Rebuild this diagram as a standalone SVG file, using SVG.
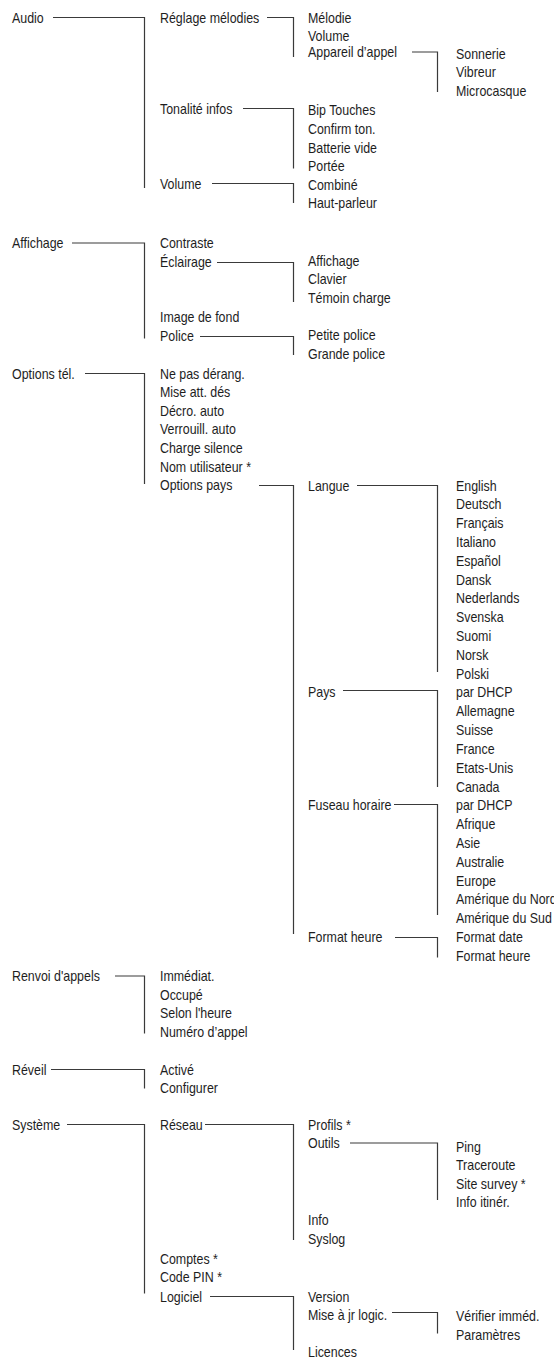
<svg xmlns="http://www.w3.org/2000/svg" width="554" height="1362" viewBox="0 0 554 1362">
<style>
text{font-family:"Liberation Sans",Arial,sans-serif;font-size:13.8px;fill:#1e1e1e}
#connectors path{fill:none;stroke:#3a3a3a;stroke-width:1.2}
</style>
<rect width="554" height="1362" fill="#fff"/>
<g id="connectors">
<path d="M53 17.5H144.5V188"/>
<path d="M267 17.5H293.5V57"/>
<path d="M412 52H437.5V92"/>
<path d="M243 108.5H293.5V168.5"/>
<path d="M212 183.5H293.5V203"/>
<path d="M72 243H144.5V338.5"/>
<path d="M217 262.5H293.5V302"/>
<path d="M200 336.5H293.5V355"/>
<path d="M85 373.5H144.5V484"/>
<path d="M259 485.5H293.5V934"/>
<path d="M357 485.5H437.5V672"/>
<path d="M343 690.5H437.5V787"/>
<path d="M394 804.5H437.5V915"/>
<path d="M395 937.5H437.5V957.5"/>
<path d="M115 976H144.5V1033.5"/>
<path d="M51 1069.5H144.5V1088.5"/>
<path d="M67 1124.5H144.5V1293.5"/>
<path d="M205 1124.5H293.5V1240"/>
<path d="M350 1143H437.5V1200"/>
<path d="M210 1296.5H293.5V1350"/>
<path d="M392 1312.5H437.5V1333.5"/>
</g>
<g id="n-audio" transform="translate(12 22.5) scale(0.9 1)"><text>Audio</text></g>
<g id="n-affichage" transform="translate(12 248) scale(0.9 1)"><text>Affichage</text></g>
<g id="n-options-tel" transform="translate(12 378.5) scale(0.9 1)"><text>Options tél.</text></g>
<g id="n-renvoi" transform="translate(12 981) scale(0.9 1)"><text>Renvoi d'appels</text></g>
<g id="n-reveil" transform="translate(12 1074.5) scale(0.9 1)"><text>Réveil</text></g>
<g id="n-systeme" transform="translate(12 1129.5) scale(0.9 1)"><text>Système</text></g>

<g id="n-reglage" transform="translate(160 22.5) scale(0.9 1)"><text>Réglage mélodies</text></g>
<g id="n-tonalite" transform="translate(160 114) scale(0.9 1)"><text>Tonalité infos</text></g>
<g id="n-volume1" transform="translate(160 189) scale(0.9 1)"><text>Volume</text></g>
<g id="n-contraste" transform="translate(160 247.5) scale(0.9 1)"><text>Contraste</text></g>
<g id="n-eclairage" transform="translate(160 267) scale(0.9 1)"><text>Éclairage</text></g>
<g id="n-image" transform="translate(160 322) scale(0.9 1)"><text>Image de fond</text></g>
<g id="n-police" transform="translate(160 341) scale(0.9 1)"><text>Police</text></g>
<g id="n-nepas" transform="translate(160 378.5) scale(0.9 1)"><text>Ne pas dérang.</text></g>
<g id="n-miseatt" transform="translate(160 397.1) scale(0.9 1)"><text>Mise att. dés</text></g>
<g id="n-decro" transform="translate(160 415.7) scale(0.9 1)"><text>Décro. auto</text></g>
<g id="n-verrouill" transform="translate(160 434.3) scale(0.9 1)"><text>Verrouill. auto</text></g>
<g id="n-charge" transform="translate(160 452.9) scale(0.9 1)"><text>Charge silence</text></g>
<g id="n-nom" transform="translate(160 471.5) scale(0.9 1)"><text>Nom utilisateur *</text></g>
<g id="n-optpays" transform="translate(160 490.3) scale(0.9 1)"><text>Options pays</text></g>
<g id="n-immediat" transform="translate(160 981) scale(0.9 1)"><text>Immédiat.</text></g>
<g id="n-occupe" transform="translate(160 999.5) scale(0.9 1)"><text>Occupé</text></g>
<g id="n-selon" transform="translate(160 1018) scale(0.9 1)"><text>Selon l'heure</text></g>
<g id="n-numero" transform="translate(160 1036.5) scale(0.9 1)"><text>Numéro d’appel</text></g>
<g id="n-active" transform="translate(160 1074.5) scale(0.9 1)"><text>Activé</text></g>
<g id="n-configurer" transform="translate(160 1093) scale(0.9 1)"><text>Configurer</text></g>
<g id="n-reseau" transform="translate(160 1129.5) scale(0.9 1)"><text>Réseau</text></g>
<g id="n-comptes" transform="translate(160 1263.5) scale(0.9 1)"><text>Comptes *</text></g>
<g id="n-codepin" transform="translate(160 1282) scale(0.9 1)"><text>Code PIN *</text></g>
<g id="n-logiciel" transform="translate(160 1301.5) scale(0.9 1)"><text>Logiciel</text></g>

<g id="n-melodie" transform="translate(308 22.5) scale(0.9 1)"><text>Mélodie</text></g>
<g id="n-volume2" transform="translate(308 40.5) scale(0.9 1)"><text>Volume</text></g>
<g id="n-appareil" transform="translate(308 57) scale(0.9 1)"><text>Appareil d’appel</text></g>
<g id="n-bip" transform="translate(308 115) scale(0.9 1)"><text>Bip Touches</text></g>
<g id="n-confirm" transform="translate(308 134) scale(0.9 1)"><text>Confirm ton.</text></g>
<g id="n-batterie" transform="translate(308 152.5) scale(0.9 1)"><text>Batterie vide</text></g>
<g id="n-portee" transform="translate(308 171) scale(0.9 1)"><text>Portée</text></g>
<g id="n-combine" transform="translate(308 189.5) scale(0.9 1)"><text>Combiné</text></g>
<g id="n-hautparleur" transform="translate(308 208) scale(0.9 1)"><text>Haut-parleur</text></g>
<g id="n-aff2" transform="translate(308 265.5) scale(0.9 1)"><text>Affichage</text></g>
<g id="n-clavier" transform="translate(308 284) scale(0.9 1)"><text>Clavier</text></g>
<g id="n-temoin" transform="translate(308 302.5) scale(0.9 1)"><text>Témoin charge</text></g>
<g id="n-petite" transform="translate(308 339.5) scale(0.9 1)"><text>Petite police</text></g>
<g id="n-grande" transform="translate(308 358.5) scale(0.9 1)"><text>Grande police</text></g>
<g id="n-langue" transform="translate(308 490.5) scale(0.9 1)"><text>Langue</text></g>
<g id="n-pays" transform="translate(308 697.4) scale(0.9 1)"><text>Pays</text></g>
<g id="n-fuseau" transform="translate(308 810.3) scale(0.9 1)"><text>Fuseau horaire</text></g>
<g id="n-formatheure1" transform="translate(308 942) scale(0.9 1)"><text>Format heure</text></g>
<g id="n-profils" transform="translate(308 1129.5) scale(0.9 1)"><text>Profils *</text></g>
<g id="n-outils" transform="translate(308 1148) scale(0.9 1)"><text>Outils</text></g>
<g id="n-info" transform="translate(308 1225) scale(0.9 1)"><text>Info</text></g>
<g id="n-syslog" transform="translate(308 1243.5) scale(0.9 1)"><text>Syslog</text></g>
<g id="n-version" transform="translate(308 1301.5) scale(0.9 1)"><text>Version</text></g>
<g id="n-miseajr" transform="translate(308 1319.5) scale(0.9 1)"><text>Mise à jr logic.</text></g>
<g id="n-licences" transform="translate(308 1357) scale(0.9 1)"><text>Licences</text></g>

<g id="n-sonnerie" transform="translate(456 58.5) scale(0.9 1)"><text>Sonnerie</text></g>
<g id="n-vibreur" transform="translate(456 77) scale(0.9 1)"><text>Vibreur</text></g>
<g id="n-microcasque" transform="translate(456 95.5) scale(0.9 1)"><text>Microcasque</text></g>
<g id="n-english" transform="translate(456 490.5) scale(0.9 1)"><text>English</text></g>
<g id="n-deutsch" transform="translate(456 509.3) scale(0.9 1)"><text>Deutsch</text></g>
<g id="n-francais" transform="translate(456 528.1) scale(0.9 1)"><text>Français</text></g>
<g id="n-italiano" transform="translate(456 546.9) scale(0.9 1)"><text>Italiano</text></g>
<g id="n-espanol" transform="translate(456 565.7) scale(0.9 1)"><text>Español</text></g>
<g id="n-dansk" transform="translate(456 584.6) scale(0.9 1)"><text>Dansk</text></g>
<g id="n-nederlands" transform="translate(456 603.4) scale(0.9 1)"><text>Nederlands</text></g>
<g id="n-svenska" transform="translate(456 622.2) scale(0.9 1)"><text>Svenska</text></g>
<g id="n-suomi" transform="translate(456 641) scale(0.9 1)"><text>Suomi</text></g>
<g id="n-norsk" transform="translate(456 659.8) scale(0.9 1)"><text>Norsk</text></g>
<g id="n-polski" transform="translate(456 678.6) scale(0.9 1)"><text>Polski</text></g>
<g id="n-pardhcp1" transform="translate(456 697.4) scale(0.9 1)"><text>par DHCP</text></g>
<g id="n-allemagne" transform="translate(456 716.2) scale(0.9 1)"><text>Allemagne</text></g>
<g id="n-suisse" transform="translate(456 735) scale(0.9 1)"><text>Suisse</text></g>
<g id="n-france" transform="translate(456 753.8) scale(0.9 1)"><text>France</text></g>
<g id="n-etatsunis" transform="translate(456 772.7) scale(0.9 1)"><text>Etats-Unis</text></g>
<g id="n-canada" transform="translate(456 791.5) scale(0.9 1)"><text>Canada</text></g>
<g id="n-pardhcp2" transform="translate(456 810.3) scale(0.9 1)"><text>par DHCP</text></g>
<g id="n-afrique" transform="translate(456 829.1) scale(0.9 1)"><text>Afrique</text></g>
<g id="n-asie" transform="translate(456 847.9) scale(0.9 1)"><text>Asie</text></g>
<g id="n-australie" transform="translate(456 866.7) scale(0.9 1)"><text>Australie</text></g>
<g id="n-europe" transform="translate(456 885.5) scale(0.9 1)"><text>Europe</text></g>
<g id="n-amnord" transform="translate(456 904.4) scale(0.9 1)"><text>Amérique du Nord</text></g>
<g id="n-amsud" transform="translate(456 923.2) scale(0.9 1)"><text>Amérique du Sud</text></g>
<g id="n-formatdate" transform="translate(456 942) scale(0.9 1)"><text>Format date</text></g>
<g id="n-formatheure2" transform="translate(456 960.8) scale(0.9 1)"><text>Format heure</text></g>
<g id="n-ping" transform="translate(456 1152) scale(0.9 1)"><text>Ping</text></g>
<g id="n-traceroute" transform="translate(456 1170) scale(0.9 1)"><text>Traceroute</text></g>
<g id="n-sitesurvey" transform="translate(456 1188.5) scale(0.9 1)"><text>Site survey *</text></g>
<g id="n-infoitiner" transform="translate(456 1207) scale(0.9 1)"><text>Info itinér.</text></g>
<g id="n-verifier" transform="translate(456 1321) scale(0.9 1)"><text>Vérifier imméd.</text></g>
<g id="n-parametres" transform="translate(456 1339.5) scale(0.9 1)"><text>Paramètres</text></g>
</svg>
